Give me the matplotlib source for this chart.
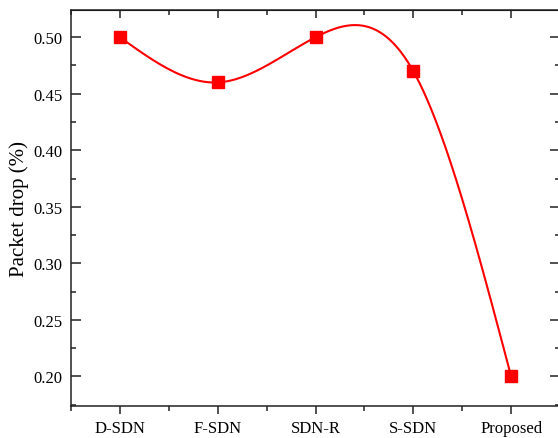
import numpy as np
import matplotlib
matplotlib.use("Agg")
import matplotlib.pyplot as plt
from matplotlib.ticker import MultipleLocator, FormatStrFormatter

methods = ["D-SDN", "F-SDN", "SDN-R", "S-SDN", "Proposed"]
packet_drop = [0.50, 0.46, 0.50, 0.47, 0.20]


def natural_spline(x, y, n=400):
    # plain natural cubic spline, like Origin's smoothed line
    x = np.asarray(x, float)
    y = np.asarray(y, float)
    k = len(x)
    h = np.diff(x)
    A = np.zeros((k, k))
    b = np.zeros(k)
    A[0, 0] = A[-1, -1] = 1
    for i in range(1, k - 1):
        A[i, i - 1] = h[i - 1]
        A[i, i] = 2 * (h[i - 1] + h[i])
        A[i, i + 1] = h[i]
        b[i] = 6 * ((y[i + 1] - y[i]) / h[i] - (y[i] - y[i - 1]) / h[i - 1])
    m = np.linalg.solve(A, b)
    xs = np.linspace(x[0], x[-1], n)
    idx = np.clip(np.searchsorted(x, xs) - 1, 0, k - 2)
    x0, x1 = x[idx], x[idx + 1]
    hh = x1 - x0
    t0, t1 = x1 - xs, xs - x0
    ys = (m[idx] * t0**3 + m[idx + 1] * t1**3) / (6 * hh) \
        + (y[idx] / hh - m[idx] * hh / 6) * t0 \
        + (y[idx + 1] / hh - m[idx + 1] * hh / 6) * t1
    return xs, ys


plt.rcParams['font.family'] = ['Liberation Serif', 'DejaVu Serif']

fig = plt.figure(figsize=(5.58, 4.39), dpi=100)
# right spine sits just past the image edge, as in the reference
ax = fig.add_axes([71 / 558, 0.0736, 489 / 558, 0.9014])

pos = np.arange(1, len(methods) + 1)
xs, ys = natural_spline(pos, packet_drop)
ax.plot(xs, ys, color='red', lw=1.5)
ax.plot(pos, packet_drop, 's', color='red', ms=8.4, lw=0)

ax.set_xlim(0.5, 5.5)
ax.set_ylim(0.174, 0.5241)
ax.set_xticks(pos)
ax.set_xticklabels(methods)
ax.xaxis.set_minor_locator(MultipleLocator(0.5))
ax.yaxis.set_major_locator(MultipleLocator(0.05))
ax.yaxis.set_minor_locator(MultipleLocator(0.025))
ax.yaxis.set_major_formatter(FormatStrFormatter('%.2f'))

ax.set_ylabel("Packet drop (%)", fontsize=15)
ax.yaxis.set_label_coords(-0.086, 0.5)

for s in ax.spines.values():
    s.set_linewidth(1.1)
    s.set_color('#222222')

tick_col = '#222222'
ax.tick_params(axis='x', which='both', direction='out', width=1.1, colors=tick_col,
               labelsize=12, labelcolor='black', pad=4)
ax.tick_params(axis='y', which='both', direction='in', width=1.1, colors=tick_col,
               labelsize=12, labelcolor='black', right=True, pad=6)
ax.tick_params(which='major', length=6)
ax.tick_params(axis='y', which='major', length=7)
ax.tick_params(which='minor', length=3.5)

# inward ticks along the top
top = ax.secondary_xaxis('top')
top.set_xticks(pos)
top.xaxis.set_minor_locator(MultipleLocator(0.5))
top.tick_params(which='both', direction='in', labeltop=False, width=1.1, colors=tick_col)
top.tick_params(which='major', length=6)
top.tick_params(which='minor', length=3.5)

fig.savefig("out.png", dpi=100)
